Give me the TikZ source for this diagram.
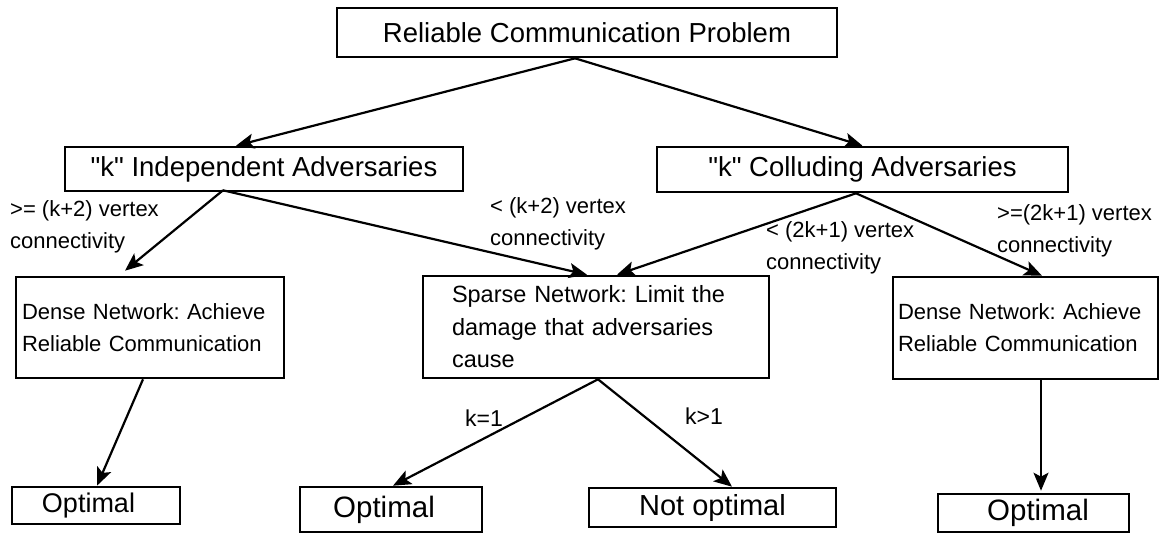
\documentclass[tikz,border=0pt]{standalone}
\usepackage{fontspec}
\setmainfont{Liberation Sans}
\usetikzlibrary{arrows.meta}
\frenchspacing
\newcommand{\dq}{\textquotedbl}
\begin{document}
\begin{tikzpicture}[x=1pt,y=-1pt,
  box/.style={draw, line width=2.6pt, inner sep=0pt, align=center},
  arr/.style={-{Stealth[length=18pt,width=15pt,inset=4pt]}, line width=2.2pt},
  bigtext/.style={font=\fontsize{27.5}{33}\selectfont},
  densetext/.style={font=\fontsize{22}{32}\selectfont, align=left},
  lbl/.style={font=\fontsize{22}{31.5}\selectfont, align=left, inner sep=0pt},
  klbl/.style={font=\fontsize{23}{28}\selectfont, inner sep=0pt}]
\useasboundingbox (0,0) rectangle (1160,533);

% first two levels of the tree
\node[box, bigtext, minimum width=500pt, minimum height=49pt] (top) at (587,32.5) {Reliable Communication Problem};
\node[box, bigtext, minimum width=398pt, minimum height=44pt] (indep) at (264,169) {\dq k\dq{} Independent Adversaries};
\node[box, bigtext, minimum width=411pt, minimum height=45pt] (coll) at (862.5,169.5) {\dq k\dq{} Colluding Adversaries};

% network cases
\node[box, densetext, minimum height=101pt, inner xsep=6pt, text width=256pt] (ldense) at (150,327.5) {Dense Network: Achieve\\Reliable Communication};
\node[box, font=\fontsize{23.5}{32.5}\selectfont, align=left, minimum height=102pt, inner xsep=29pt, text width=288pt] (sparse) at (596,327) {Sparse Network: Limit the\\damage that adversaries\\cause};
\node[box, densetext, minimum height=102pt, inner xsep=5pt, text width=255pt] (rdense) at (1025.5,328) {Dense Network: Achieve\\Reliable Communication};

% outcomes
\node[box, font=\fontsize{27}{32}\selectfont, minimum width=168pt, minimum height=37pt] (optL) at (96,505.5) {Optimal\hspace*{15pt}};
\node[box, font=\fontsize{29.5}{34}\selectfont, minimum width=182pt, minimum height=45pt] (optM) at (391,509.5) {Optimal\hspace*{14pt}};
\node[box, font=\fontsize{29}{34}\selectfont, minimum width=247pt, minimum height=39pt] (notopt) at (712.5,507.5) {Not optimal};
\node[box, font=\fontsize{29.5}{34}\selectfont, minimum width=191pt, minimum height=38pt] (optR) at (1033.5,513) {\hspace*{9pt}Optimal};

% connectors
\draw[arr] ([xshift=-12pt]top.south) -- ([xshift=-28pt]indep.north);
\draw[arr] ([xshift=-12pt]top.south) -- (coll.north);
\draw[arr] ([xshift=-41pt,yshift=2pt]indep.south) -- ([xshift=-25pt,yshift=5pt]ldense.north);
\draw[arr] ([xshift=-41pt,yshift=2pt]indep.south) -- ([xshift=-9pt]sparse.north);
\draw[arr] ([xshift=-6.5pt]coll.south) -- ([xshift=21pt]sparse.north);
\draw[arr] ([xshift=-6.5pt]coll.south) -- ([xshift=16.5pt]rdense.north);
\draw[arr] ([xshift=-7pt]ldense.south) -- ([xshift=1pt]optL.north);
\draw[arr] ([xshift=2pt]sparse.south) -- ([xshift=2pt]optM.north);
\draw[arr] ([xshift=2pt]sparse.south) -- ([xshift=19.5pt]notopt.north);
\draw[arr] ([xshift=15.5pt]rdense.south) -- ([xshift=7.5pt,yshift=2pt]optR.north);

% connector labels
\node[lbl, anchor=west] (lab1) at (10,227) {>= (k+2) vertex\\connectivity};
\node[lbl, anchor=west] (lab2) at (490,224) {< (k+2) vertex\\connectivity};
\node[lbl, anchor=west] (lab3) at (766,248) {< (2k+1) vertex\\connectivity};
\node[lbl, anchor=west] (lab4) at (997,231) {>=(2k+1) vertex\\connectivity};
\node[klbl] (k1) at (484,418) {k=1};
\node[klbl] (k2) at (704,416) {k>1};
\end{tikzpicture}
\end{document}
